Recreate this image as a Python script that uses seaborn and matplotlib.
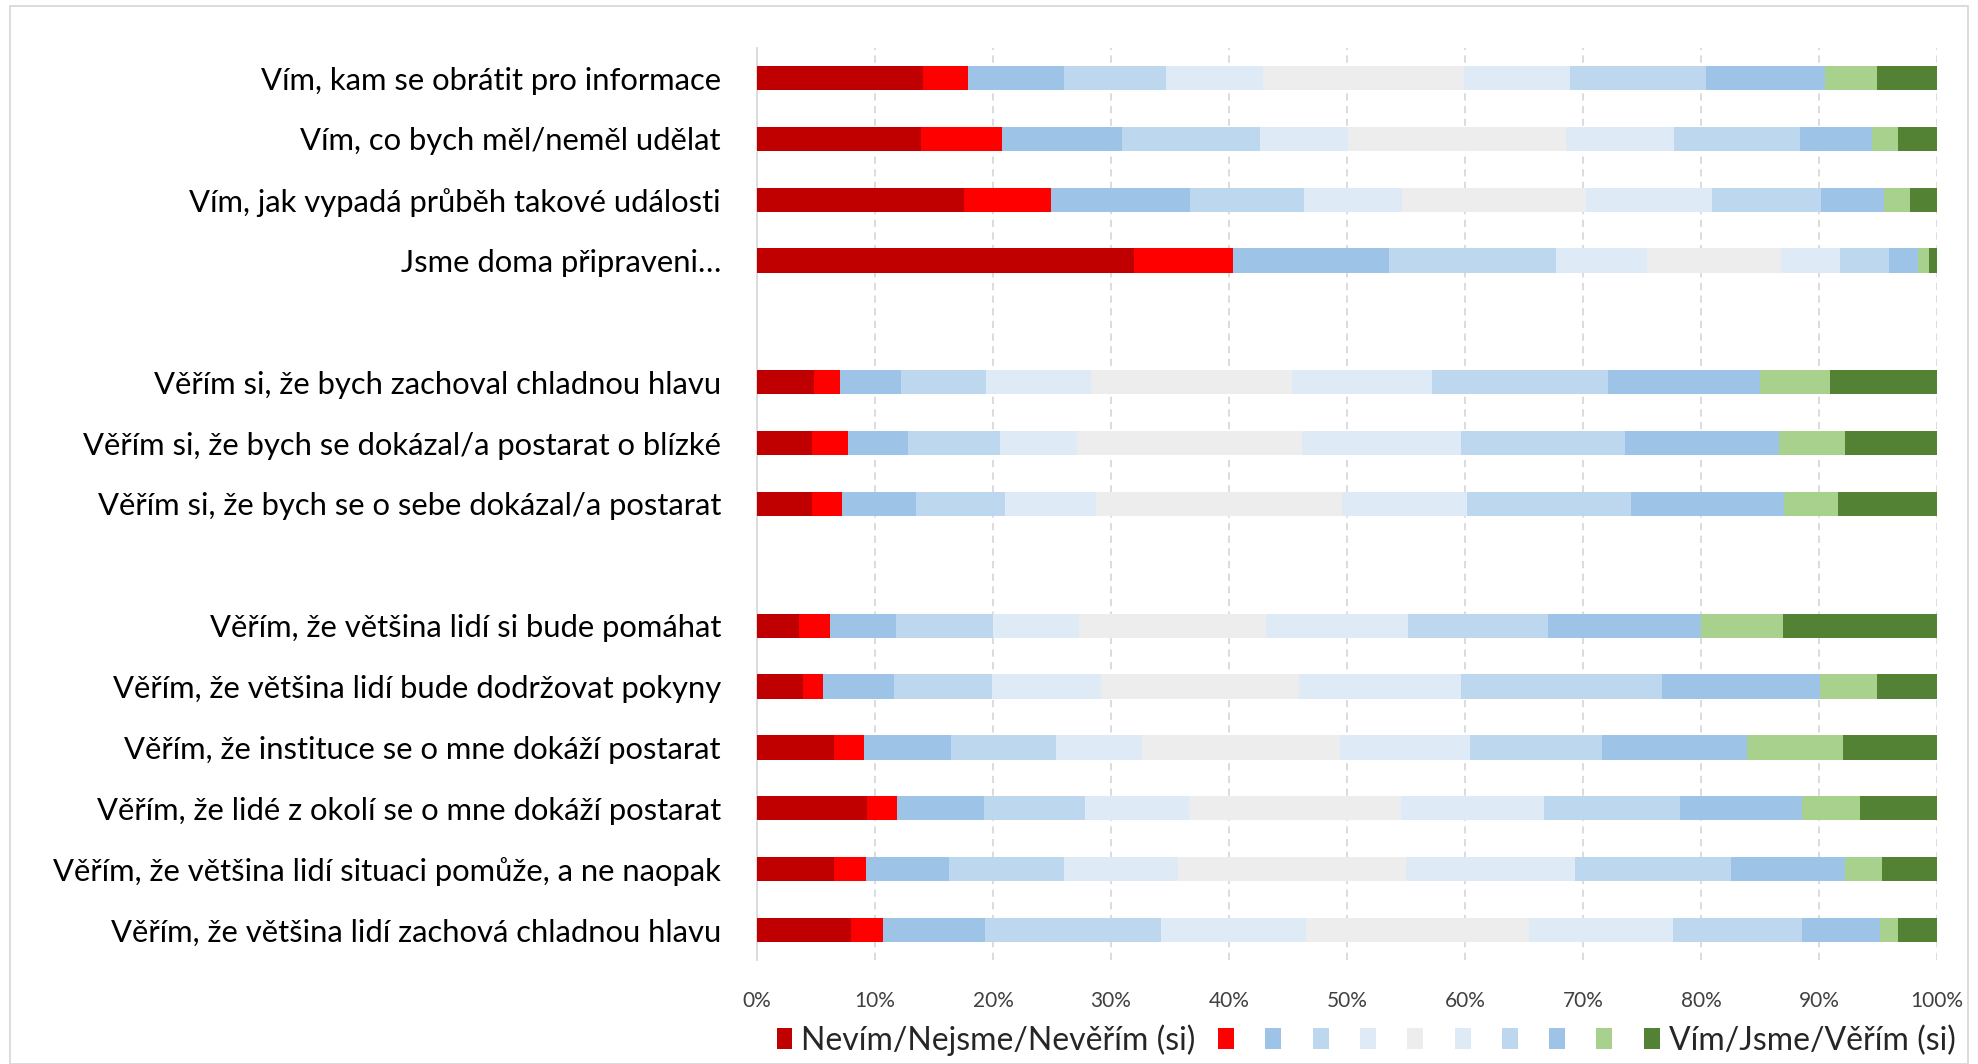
import numpy as np
import pandas as pd
import matplotlib
matplotlib.use("Agg")
import matplotlib.pyplot as plt
import seaborn as sns
from matplotlib.patches import Rectangle, Patch

categories = [
    "Vím, kam se obrátit pro informace",
    "Vím, co bych měl/neměl udělat",
    "Vím, jak vypadá průběh takové události",
    "Jsme doma připraveni…",
    "Věřím si, že bych zachoval chladnou hlavu",
    "Věřím si, že bych se dokázal/a postarat o blízké",
    "Věřím si, že bych se o sebe dokázal/a postarat",
    "Věřím, že většina lidí si bude pomáhat",
    "Věřím, že většina lidí bude dodržovat pokyny",
    "Věřím, že instituce se o mne dokáží postarat",
    "Věřím, že lidé z okolí se o mne dokáží postarat",
    "Věřím, že většina lidí situaci pomůže, a ne naopak",
    "Věřím, že většina lidí zachová chladnou hlavu",
]

seg_01 = [14.1, 13.9, 17.6, 32.0, 4.8, 4.7, 4.7, 3.6, 3.9, 6.5, 9.3, 6.5, 8.0]
seg_02 = [3.8, 6.9, 7.3, 8.4, 2.2, 3.0, 2.5, 2.6, 1.7, 2.6, 2.6, 2.7, 2.7]
seg_03 = [8.1, 10.2, 11.8, 13.2, 5.2, 5.1, 6.3, 5.6, 6.0, 7.3, 7.3, 7.1, 8.6]
seg_04 = [8.7, 11.7, 9.7, 14.2, 7.2, 7.8, 7.5, 8.2, 8.3, 8.9, 8.6, 9.7, 14.9]
seg_05 = [8.2, 7.4, 8.3, 7.7, 8.9, 6.6, 7.7, 7.3, 9.3, 7.3, 8.8, 9.7, 12.3]
seg_06 = [17.0, 18.5, 15.6, 11.4, 17.0, 19.1, 20.9, 15.9, 16.8, 16.8, 18.0, 19.3, 18.9]
seg_07 = [9.0, 9.2, 10.7, 5.0, 11.9, 13.5, 10.6, 12.0, 13.7, 11.0, 12.1, 14.3, 12.2]
seg_08 = [11.5, 10.7, 9.3, 4.1, 14.9, 13.9, 13.9, 11.9, 17.1, 11.2, 11.5, 13.2, 11.0]
seg_09 = [10.1, 6.1, 5.3, 2.5, 12.9, 13.1, 12.9, 13.0, 13.4, 12.3, 10.4, 9.7, 6.6]
seg_10 = [4.4, 2.2, 2.2, 0.9, 5.9, 5.6, 4.6, 6.9, 4.8, 8.1, 4.9, 3.1, 1.5]
seg_11 = [5.1, 3.3, 2.3, 0.7, 9.1, 7.8, 8.4, 13.1, 5.1, 8.0, 6.5, 4.7, 3.3]

legend_labels = ["Nevím/Nejsme/Nevěřím (si)", "", "", "", "", "", "", "", "", "", "Vím/Jsme/Věřím (si)"]
tick_labels = ["0%", "10%", "20%", "30%", "40%", "50%", "60%", "70%", "80%", "90%", "100%"]

segments = [seg_01, seg_02, seg_03, seg_04, seg_05, seg_06, seg_07, seg_08, seg_09, seg_10, seg_11]
colors = ["#C00000", "#FF0000", "#9DC3E6", "#BDD7EE", "#DEEBF7", "#EDEDED",
          "#DEEBF7", "#BDD7EE", "#9DC3E6", "#A9D18E", "#548235"]

sns.set_theme(style="white")
plt.rcParams["font.family"] = ["Lato", "DejaVu Sans"]

df = pd.DataFrame({"cat": categories})
vals = np.array(segments, dtype=float).T
vals = vals / vals.sum(axis=1, keepdims=True) * 100
cum = np.cumsum(vals, axis=1)
for k in range(len(segments)):
    df[f"cum{k}"] = cum[:, k]

order = categories[0:4] + [" "] + categories[4:7] + ["  "] + categories[7:13]

W, H = 1978, 1064
fig = plt.figure(figsize=(W / 100, H / 100), dpi=100)
fig.patch.set_facecolor("white")
top_px, bot_px = 47.6, 960.4
ax = fig.add_axes([757 / W, 1 - bot_px / H, (1937 - 757) / W, (bot_px - top_px) / H])

for k in range(len(segments) - 1, -1, -1):
    sns.barplot(data=df, x=f"cum{k}", y="cat", order=order, orient="h",
                color=colors[k], saturation=1, width=0.4, linewidth=0,
                ax=ax, errorbar=None, zorder=3)

ax.set_xlim(0, 100)
ax.set_xticks(np.arange(0, 101, 10))
ax.set_xticklabels(tick_labels, fontsize=15, color="#404040")
ax.set_yticklabels(order, fontsize=22.3, color="black")
ax.tick_params(axis="y", length=0, pad=26)
ax.tick_params(axis="x", length=0, pad=22)
ax.set_xlabel("")
ax.set_ylabel("")
for s in ["top", "right", "bottom"]:
    ax.spines[s].set_visible(False)
ax.spines["left"].set_color("#D9D9D9")
ax.spines["left"].set_linewidth(1.3)
ax.xaxis.grid(True, color="#D9D9D9", linestyle=(0, (4, 3)), linewidth=1.3, zorder=0)
ax.yaxis.grid(False)
ax.set_axisbelow(True)

handles = [Patch(facecolor=c, edgecolor="none") for c in colors]
fig.legend(handles, legend_labels, ncol=11, loc="center", bbox_to_anchor=(1366 / W, 1 - 1040 / H),
           frameon=False, fontsize=23, handlelength=0.5, handleheight=0.6,
           handletextpad=0.28, columnspacing=0.7, borderpad=0.2)

fig.patches.append(Rectangle((10 / W, 0), 1958 / W, 1 - 6 / H, transform=fig.transFigure,
                             fill=False, edgecolor="#D9D9D9", linewidth=1.3, zorder=-1))

fig.savefig("out.png", dpi=100)
